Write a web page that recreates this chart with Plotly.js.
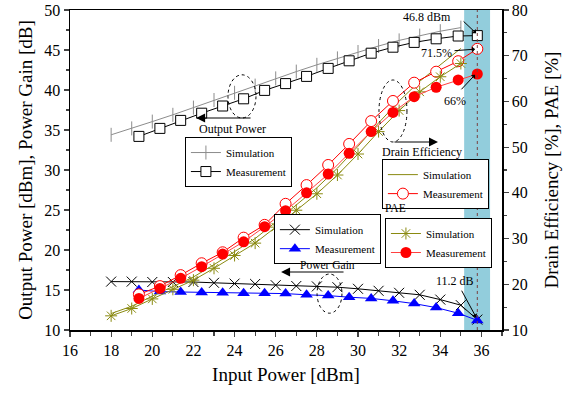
<!DOCTYPE html>
<html><head><meta charset="utf-8">
<script src="https://cdn.plot.ly/plotly-3.0.1.min.js"></script>
<style>html,body{margin:0;padding:0;background:#fff}#c{width:574px;height:393px}</style>
</head><body><div id="c"></div>
<script>
// Simulation input power points
const xSim = [18,19,20,21,22,23,24,25,26,27,28,29,30,31,32,33,34,35];
const poutSim = [34.4,35.2,36.05,36.9,37.8,38.75,39.65,40.55,41.45,42.3,43.15,43.95,44.75,45.5,46.2,46.8,47.35,47.8];
const deSim = [13.6,15.2,17.4,19.5,21.6,24.3,27.2,30.0,33.6,37.4,41.1,45.4,50.2,55.3,60.1,64.4,68.0,71.6];
const paeSim = [13.1,14.7,16.8,18.9,20.9,23.5,26.3,29.0,32.5,36.2,39.8,43.9,48.5,53.4,58.0,62.1,65.4,68.3];
const xGainSim = [18,19,20,21,22,23,24,25,26,27,28,29,30,31,32,33,34,35,35.8];
const gainSim = [16.05,16.05,16.0,16.0,16.0,15.9,15.8,15.75,15.6,15.5,15.45,15.35,15.15,14.9,14.65,14.4,13.8,13.1,11.3];
// Measurement
const xMeas = [19.35,20.37,21.38,22.4,23.42,24.44,25.46,26.48,27.5,28.55,29.57,30.64,31.7,32.73,33.8,34.87,35.8];
const poutMeas = [34.2,35.2,36.2,37.1,38.0,38.9,39.95,40.8,41.7,42.7,43.65,44.6,45.35,45.95,46.4,46.75,46.8];
const gainMeas = [15.0,14.8,14.75,14.7,14.65,14.6,14.6,14.55,14.4,14.3,14.1,13.95,13.65,13.3,12.8,12.1,11.2];
const deMeas = [17.8,19.6,22.0,24.6,27.0,30.2,33.0,37.6,41.7,46.1,50.7,55.7,60.1,64.1,66.5,68.8,71.5];
const paeMeas = [16.9,19.1,21.3,23.85,26.6,29.3,32.6,36.1,40.0,44.1,48.65,53.4,57.6,61.05,63.1,64.7,66.0];
const xTicks = [16,18,20,22,24,26,28,30,32,34,36];

const FONT = 'Liberation Serif, Times New Roman, serif';
const OLIVE = '#8a8a10';

const traces = [
  {x:xSim,y:poutSim,name:'Simulation',mode:'lines+markers',legend:'legend',
   line:{color:'#8c8c8c',width:1},marker:{symbol:'line-ns-open',size:10,line:{color:'#8c8c8c',width:1}}},
  {x:xMeas,y:poutMeas,name:'Measurement',mode:'lines+markers',legend:'legend',
   line:{color:'#000',width:1},marker:{symbol:'square',size:10,color:'#fff',line:{color:'#000',width:1}}},
  {x:xSim,y:deSim,name:'Simulation',mode:'lines',yaxis:'y2',legend:'legend2',
   line:{color:OLIVE,width:1}},
  {x:xMeas,y:deMeas,name:'Measurement',mode:'lines+markers',yaxis:'y2',legend:'legend2',
   line:{color:'#ff0000',width:1},marker:{symbol:'circle',size:11,color:'#fff',line:{color:'#ff0000',width:1}}},
  {x:xSim,y:paeSim,name:'Simulation',mode:'lines+markers',yaxis:'y2',legend:'legend3',
   line:{color:OLIVE,width:1},marker:{symbol:'asterisk-open',size:10,line:{color:OLIVE,width:1}}},
  {x:xMeas,y:paeMeas,name:'Measurement',mode:'lines+markers',yaxis:'y2',legend:'legend3',
   line:{color:'#ff4040',width:1},marker:{symbol:'circle',size:11,color:'#ff0000',line:{color:'#ff0000',width:0}}},
  {x:xGainSim,y:gainSim,name:'Simulation',mode:'lines+markers',legend:'legend4',
   line:{color:'#000',width:1},marker:{symbol:'x-thin-open',size:10,line:{color:'#000',width:1}}},
  {x:xMeas,y:gainMeas,name:'Measurement',mode:'lines+markers',legend:'legend4',
   line:{color:'#0000ff',width:1},marker:{symbol:'triangle-up',size:11,color:'#0000ff'}}
];

const legBase = {bgcolor:'#fff',bordercolor:'#000',borderwidth:1,font:{family:FONT,size:11,color:'#000'},
  xanchor:'left',yanchor:'top',itemwidth:30,tracegroupgap:0};

function arrow(x,y,ax,ay,opts){
  return Object.assign({x:x,y:y,ax:ax,ay:ay,xref:'x',yref:'y',axref:'x',ayref:'y',text:'',
    showarrow:true,arrowhead:2,arrowsize:1,arrowwidth:1,arrowcolor:'#000',standoff:0},opts||{});
}
function label(x,y,t,sz){
  return {x:x,y:y,xref:'x',yref:'y',text:t,showarrow:false,font:{family:FONT,size:sz||12,color:'#000'}};
}

const layout = {
  width:574,height:393,margin:{l:70,r:72,t:10,b:63},
  paper_bgcolor:'#fff',plot_bgcolor:'#fff',showlegend:true,
  font:{family:FONT,color:'#000'},
  xaxis:{range:[16,37],tickvals:xTicks,ticks:'outside',ticklen:5,tickwidth:1.2,showline:true,linewidth:1.5,
    linecolor:'#000',mirror:true,showgrid:false,zeroline:false,tickfont:{family:FONT,size:16},
    minor:{dtick:1,ticks:'outside',ticklen:4,tickwidth:1.2,showgrid:false},
    title:{text:'Input Power [dBm]',font:{family:FONT,size:19},standoff:10}},
  yaxis:{range:[10,50],dtick:5,ticks:'outside',ticklen:5,tickwidth:1.2,showline:true,linewidth:1.5,linecolor:'#000',
    showgrid:false,zeroline:false,tickfont:{family:FONT,size:16},
    minor:{dtick:2.5,ticks:'outside',ticklen:3,tickwidth:1.2,showgrid:false},
    title:{text:'Output Power [dBm], Power Gain [dB]',font:{family:FONT,size:19},standoff:6}},
  yaxis2:{range:[10,80],dtick:10,overlaying:'y',side:'right',ticks:'outside',ticklen:5,tickwidth:1.2,showline:true,
    linewidth:1.5,linecolor:'#000',showgrid:false,zeroline:false,tickfont:{family:FONT,size:16},
    minor:{dtick:5,ticks:'outside',ticklen:3,tickwidth:1.2,showgrid:false},
    title:{text:'Drain Efficiency [%], PAE [%]',font:{family:FONT,size:19},standoff:18}},
  legend:Object.assign({},legBase,{x:0.266,y:0.603}),
  legend2:Object.assign({},legBase,{x:0.722,y:0.534}),
  legend3:Object.assign({},legBase,{x:0.729,y:0.35}),
  legend4:Object.assign({},legBase,{x:0.472,y:0.362}),
  shapes:[
    {type:'rect',xref:'x',yref:'paper',x0:35.16,x1:36.42,y0:0,y1:1,fillcolor:'rgb(146,205,220)',line:{width:0},layer:'below'},
    {type:'line',xref:'x',yref:'paper',x0:35.8,x1:35.8,y0:0,y1:1,line:{color:'#7a4040',width:1,dash:'dot'}},
    {type:'circle',xref:'x',yref:'y',x0:23.68,x1:25.04,y0:36.5,y1:41.9,line:{color:'#000',width:1,dash:'dot'}},
    {type:'circle',xref:'x',yref:'y',x0:31.02,x1:32.38,y0:33.5,y1:41.25,line:{color:'#000',width:1,dash:'dot'}},
    {type:'circle',xref:'x',yref:'y',x0:28.01,x1:29.22,y0:12.1,y1:17.0,line:{color:'#000',width:1,dash:'dot'}}
  ],
  annotations:[
    arrow(22.13,36.5,24.85,36.5,{arrowsize:1.8}),
    label(23.88,35.1,'Output Power'),
    arrow(33.89,33.5,31.7,33.5,{arrowsize:1.8}),
    label(33.11,32.25,'Drain Efficiency'),
    label(31.8,25.3,'PAE',11.5),
    label(28.54,18.1,'Power Gain',11.5),
    arrow(26.26,17.25,29.37,17.25,{arrowsize:1.8}),
    label(33.36,49.1,'46.8 dBm'),
    arrow(35.74,47.1,35.06,48.75,{arrowhead:1}),
    label(33.84,44.6,'71.5%'),
    arrow(35.69,45.1,34.62,44.9,{arrowhead:1}),
    label(34.72,38.6,'66%'),
    arrow(35.69,41.9,34.96,39.9,{arrowhead:1}),
    label(34.72,16.1,'11.2 dB'),
    arrow(35.74,11.6,35.0,15.1,{arrowhead:1})
  ]
};
Plotly.newPlot('c',traces,layout,{displayModeBar:false,staticPlot:true});
</script></body></html>
